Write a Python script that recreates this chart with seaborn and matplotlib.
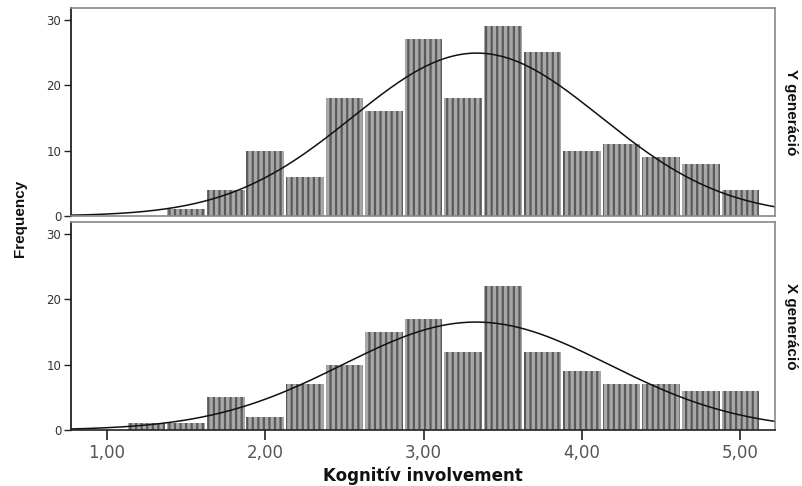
import numpy as np
import matplotlib
matplotlib.use("Agg")
import matplotlib.pyplot as plt
import seaborn as sns

# bin edges (width 0.25) and counts
edges_y = [1.375, 1.625, 1.875, 2.125, 2.375, 2.625, 2.875, 3.125, 3.375,
           3.625, 3.875, 4.125, 4.375, 4.625, 4.875, 5.125]
counts_y = [1, 4, 10, 6, 18, 16, 27, 18, 29, 25, 10, 11, 9, 8, 4]

edges_x = [1.125, 1.375, 1.625, 1.875, 2.125, 2.375, 2.625, 2.875, 3.125,
           3.375, 3.625, 3.875, 4.125, 4.375, 4.625, 4.875, 5.125]
counts_x = [1, 1, 5, 2, 7, 10, 15, 17, 12, 22, 12, 9, 7, 7, 6, 6]

# normal curve parameters (mean, sd) per group
mean_y, sd_y = 3.335, 0.785
mean_x, sd_x = 3.33, 0.84

groups = ["Y generáció", "X generáció"]
xticks = [1, 2, 3, 4, 5]
xtick_labels = ["1,00", "2,00", "3,00", "4,00", "5,00"]
yticks = [0, 10, 20, 30]

sns.set_style("white")
plt.rcParams["font.family"] = ["Liberation Sans", "DejaVu Sans"]
plt.rcParams["hatch.linewidth"] = 1.6

fig = plt.figure(figsize=(8.03, 4.86), dpi=100)
ax_top = fig.add_axes([0.0884, 0.5556, 0.877, 0.428])
ax_bot = fig.add_axes([0.0884, 0.1152, 0.877, 0.428])

panels = [
    (ax_top, edges_y, counts_y, mean_y, sd_y, groups[0]),
    (ax_bot, edges_x, counts_x, mean_x, sd_x, groups[1]),
]

xgrid = np.linspace(0.77, 5.22, 300)
for ax, edges, counts, mu, sd, label in panels:
    centers = [(a + b) / 2 for a, b in zip(edges[:-1], edges[1:])]
    sns.histplot(x=centers, weights=counts, bins=edges, ax=ax,
                 stat="count", shrink=0.95, color="#a8a8a8", alpha=1,
                 edgecolor="#5a5a5a", linewidth=0)
    for p in ax.patches:
        p.set_hatch("|||")
        p.set_edgecolor("#5a5a5a")
        p.set_linewidth(0)
    n = sum(counts)
    bw = edges[1] - edges[0]
    dens = n * bw / (sd * np.sqrt(2 * np.pi)) * np.exp(-(xgrid - mu) ** 2 / (2 * sd ** 2))
    ax.plot(xgrid, dens, color="#111111", lw=1.1)

    ax.set_xlim(0.773, 5.22)
    ax.set_ylim(0, 31.8)
    ax.set_yticks(yticks)
    ax.set_yticklabels([str(t) for t in yticks], fontsize=8.5, color="#333333",
                       family="DejaVu Sans")
    ax.tick_params(axis="y", left=True, direction="out", length=5, width=1,
                   color="#222222", pad=2)
    ax.set_ylabel("")
    for s in ["top", "right", "bottom"]:
        ax.spines[s].set_color("#888888")
        ax.spines[s].set_linewidth(1.2)
    ax.spines["left"].set_color("#222222")
    ax.spines["left"].set_linewidth(1.3)
    ax.text(1.012, 0.5, label, transform=ax.transAxes, rotation=-90,
            ha="left", va="center", fontsize=11, fontweight="bold",
            fontstretch="condensed", color="#111111")

ax_top.set_xticks([])
ax_top.set_xlabel("")
ax_bot.spines["bottom"].set_color("#222222")
ax_bot.set_xticks(xticks)
ax_bot.set_xticklabels(xtick_labels, fontsize=12, color="#555555",
                       family="DejaVu Sans")
ax_bot.tick_params(axis="x", bottom=True, direction="out", length=7, width=1.2,
                   color="#222222", pad=3)
ax_bot.set_xlabel("Kognitív involvement", fontsize=12, fontweight="bold",
                  color="#111111", labelpad=3, family="DejaVu Sans")

fig.text(0.025, 0.55, "Frequency", rotation=90, ha="center", va="center",
         fontsize=11, fontweight="bold", color="#111111")

fig.savefig("out.png", dpi=100)
